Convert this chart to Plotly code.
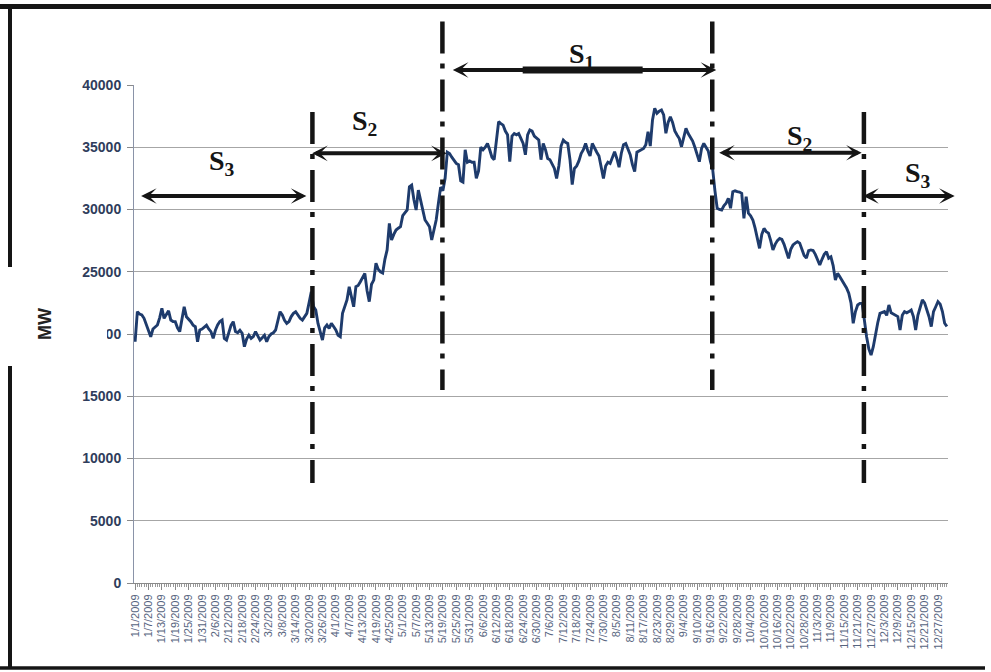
import datetime as dt
import plotly.graph_objects as go

# ---------------- data (daily load, MW, 2009) ----------------
jan = [19380, 21790, 21600, 21530, 21260, 20800, 20320, 19780, 20400, 20590, 20720, 21300, 22060, 21260, 21600, 21870,
       21120, 21000, 20990, 20500, 20190, 21200, 22190, 21390, 21200, 20990, 20700, 20590, 19380, 20320, 20400]
feb = [20590, 20700, 20400, 20190, 19650, 20300, 20720, 21000, 21120, 19650, 19510, 20200, 20700, 20990, 20200, 20100,
       20300, 20060, 18980, 19600, 19900, 19650, 19800, 20190, 19900, 19510, 19700, 19900]
mar = [19380, 19800, 20000, 20100, 20320, 21000, 21790, 21530, 21100, 20850, 20990, 21400, 21660, 21790, 21500, 21260,
       21120, 21400, 21660, 22500, 23400, 22200, 21930, 20850, 20100, 19510, 20500, 20720, 20450, 20850, 20600]
apr = [20320, 19900, 19780, 21660, 22300, 22730, 23800, 23000, 22190, 23800, 23900, 24200, 24500, 24870, 23500, 22600,
       24000, 24330, 25680, 25200, 25000, 24900, 26000, 26750, 28890, 27550, 28000, 28350, 28500, 28620]
may = [29500, 29700, 29960, 31830, 31960, 30800, 29960, 31560, 30800, 29830, 29160, 28900, 28620, 27550, 28300, 29160,
       30500, 31800, 31500, 32500, 34600, 34500, 34200, 33900, 33700, 33600, 32300, 32200, 34800, 33800, 33900]
jun = [33800, 33800, 32500, 33100, 35000, 34800, 35000, 35300, 34800, 34200, 34000, 35500, 37050, 36900, 36780, 36300,
       36000, 33840, 35900, 36100, 36000, 36100, 35700, 35300, 34400, 36000, 36390, 36300, 35900, 35700]
jul = [35580, 34000, 35300, 34800, 34100, 34000, 33700, 33300, 32500, 33500, 35100, 35580, 35400, 35300, 34000, 32000,
       33300, 33500, 33900, 34500, 34800, 35300, 34700, 34300, 35300, 34900, 34600, 34300, 33400, 32500, 33500]
aug = [33800, 33700, 34200, 34640, 34100, 33400, 34500, 35200, 35300, 34900, 34400, 33600, 33040, 34600, 34700, 34800,
       34900, 35200, 36250, 35100, 37200, 38130, 37730, 37900, 37990, 37590, 36120, 37000, 37450, 37000, 36300]
sep = [35980, 35700, 35040, 35800, 36520, 36100, 35800, 35500, 35000, 34300, 33840, 34900, 35310, 35000, 34700, 33840,
       33200, 31500, 30100, 30000, 29960, 30300, 30500, 30900, 30100, 31430, 31500, 31430, 31400, 31300]
oct_ = [29290, 31030, 29700, 29500, 29160, 28500, 27810, 26880, 28000, 28480, 28220, 28100, 27500, 26750, 27200, 27500,
        27680, 27600, 27200, 26600, 26080, 26800, 27150, 27300, 27410, 27300, 26800, 26300, 26100, 26700, 26750]
nov = [26700, 26400, 25900, 25540, 26000, 26400, 26610, 26080, 26200, 25500, 24330, 24870, 24600, 24300, 24070, 23700,
       23270, 22500, 20860, 21800, 22330, 22460, 22460, 21000, 19780, 18800, 18310, 18980, 20000, 20900]
dec = [21660, 21700, 21800, 21500, 22330, 21700, 21600, 21530, 21400, 20320, 21500, 21800, 21700, 21800, 21930, 21400,
       20320, 21500, 22200, 22730, 22500, 22000, 21390, 20590, 21800, 22190, 22600, 22400, 21800, 20860, 20600]

y_ticks = [0, 5000, 10000, 15000, 20000, 25000, 30000, 35000, 40000]
y_title = "MW"

# season boundaries (dash-dot lines): date, bottom MW, top MW
boundaries = [("2009-03-21 12:00", 8030, 37830),
              ("2009-05-18 19:00", 15500, 45100),
              ("2009-09-16 19:00", 15500, 45100),
              ("2009-11-23 19:00", 8030, 37830)]
# season arrows: start, end, MW level
arrows = [("2009-01-03 00:00", "2009-03-18 19:00", 31080),
          ("2009-03-20 17:00", "2009-05-20 17:00", 34510),
          ("2009-05-22 19:00", "2009-09-18 14:00", 41200),
          ("2009-09-19 05:00", "2009-11-22 19:00", 34560),
          ("2009-11-22 19:00", "2010-01-03 12:00", 31080)]
# season labels: text, date, MW level
labels = [("S<sub>3</sub>", "2009-02-09", 35350),
          ("S<sub>2</sub>", "2009-04-14", 38550),
          ("S<sub>1</sub>", "2009-07-20", 43950),
          ("S<sub>2</sub>", "2009-10-26", 37350),
          ("S<sub>3</sub>", "2009-12-18", 34400)]
s1_bar = ("2009-06-23 19:00", "2009-08-16 14:00", 41200)

# ---------------- figure ----------------
values = jan + feb + mar + apr + may + jun + jul + aug + sep + oct_ + nov + dec
start = dt.date(2009, 1, 1)
dates = [start + dt.timedelta(days=i) for i in range(len(values))]

W, H = 991, 672
ML, MR, MT, MB = 134, 43, 85, 89
PW, PH = W - ML - MR, H - MT - MB
YMAX = y_ticks[-1]


def pyv(v):  # MW value -> paper y
    return v / YMAX


def ppx(px):  # pixel -> paper x
    return (px - ML) / PW


def ppy(py):  # pixel -> paper y
    return (H - MB - py) / PH


fig = go.Figure()
fig.add_trace(go.Scatter(x=dates, y=values, mode="lines",
                         line=dict(color="#1e3b6c", width=2.9), showlegend=False))

shapes = []
for d, lo, hi in boundaries:
    shapes.append(dict(type="line", xref="x", yref="paper", x0=d, x1=d, y0=pyv(hi), y1=pyv(lo),
                       line=dict(color="#151515", width=4.5, dash="32px,10px,5px,11px"), layer="above"))
shapes.append(dict(type="line", xref="x", yref="paper", x0=s1_bar[0], x1=s1_bar[1],
                   y0=pyv(s1_bar[2]), y1=pyv(s1_bar[2]), line=dict(color="#151515", width=7)))

# page frame and pasted white label box
frame = "#151515"
shapes += [
    dict(type="line", xref="paper", yref="paper", x0=ppx(-2), x1=ppx(993), y0=ppy(6.5), y1=ppy(6.5),
         line=dict(color=frame, width=5)),
    dict(type="line", xref="paper", yref="paper", x0=ppx(10), x1=ppx(10), y0=ppy(4), y1=ppy(668),
         line=dict(color=frame, width=4)),
    dict(type="line", xref="paper", yref="paper", x0=ppx(0), x1=ppx(985), y0=ppy(668), y1=ppy(668),
         line=dict(color=frame, width=3.5)),
    dict(type="rect", xref="paper", yref="paper", x0=ppx(6), x1=ppx(16), y0=ppy(267), y1=ppy(366),
         fillcolor="white", line=dict(width=0), layer="above"),
    dict(type="rect", xref="paper", yref="paper", x0=ppx(16), x1=ppx(107), y0=ppy(283), y1=ppy(366),
         fillcolor="white", line=dict(width=0), layer="above"),
    dict(type="rect", xref="paper", yref="paper", x0=ppx(70), x1=ppx(126), y0=ppy(262), y1=ppy(266.5),
         fillcolor="white", line=dict(width=0), layer="above"),
]

annotations = []
for a0, a1, lvl in arrows:
    annotations.append(dict(x=a1, y=pyv(lvl), xref="x", yref="paper", ax=a0, ay=0, axref="x", ayref="pixel",
                            text=" ", font=dict(size=1), showarrow=True, arrowside="end+start",
                            arrowhead=3, startarrowhead=3, arrowsize=0.65, startarrowsize=0.65,
                            arrowwidth=4, arrowcolor="#151515", standoff=0, startstandoff=0))
for txt, d, lvl in labels:
    annotations.append(dict(x=d, y=pyv(lvl), xref="x", yref="paper", text="<b>" + txt + "</b>",
                            showarrow=False, font=dict(family="Liberation Serif", size=28, color="#151515")))
annotations.append(dict(x=ppx(45), y=ppy(324), xref="paper", yref="paper", text="<b>" + y_title + "</b>",
                        textangle=-90, showarrow=False, xanchor="center", yanchor="middle",
                        font=dict(family="Liberation Sans", size=18, color="#222222")))

fig.update_layout(
    width=W, height=H, margin=dict(l=ML, r=MR, t=MT, b=MB),
    paper_bgcolor="white", plot_bgcolor="white",
    shapes=shapes, annotations=annotations, showlegend=False,
    xaxis=dict(type="date", range=["2008-12-31 12:00", "2009-12-31 12:00"],
               tick0="2009-01-01", dtick=6 * 86400000, tickformat="%-m/%-d/%Y", tickangle=-90,
               tickfont=dict(family="Liberation Sans", size=11, color="#56647e"),
               ticks="outside", ticklen=6, tickcolor="#8a8a8a", showgrid=False,
               showline=True, linecolor="#8a8a8a", linewidth=1, zeroline=False,
               minor=dict(ticks="outside", ticklen=3, tickcolor="#9a9a9a", tick0="2009-01-01",
                          dtick=86400000, showgrid=False)),
    yaxis=dict(range=[0, YMAX], tickvals=y_ticks, ticktext=[str(v) for v in y_ticks],
               tickfont=dict(family="Liberation Sans", size=14, color="#2f3d5c", weight="bold"),
               ticks="outside", ticklen=6, tickcolor="#8a8a8a", showgrid=True, gridcolor="#a6a6a6",
               gridwidth=1, showline=True, linecolor="#8a93a8", linewidth=1, zeroline=False,
               ticklabelstandoff=3),
)

fig.write_html("out.html", config={"displayModeBar": False},
               post_script="document.body.style.margin='0';document.body.style.overflow='hidden';")
